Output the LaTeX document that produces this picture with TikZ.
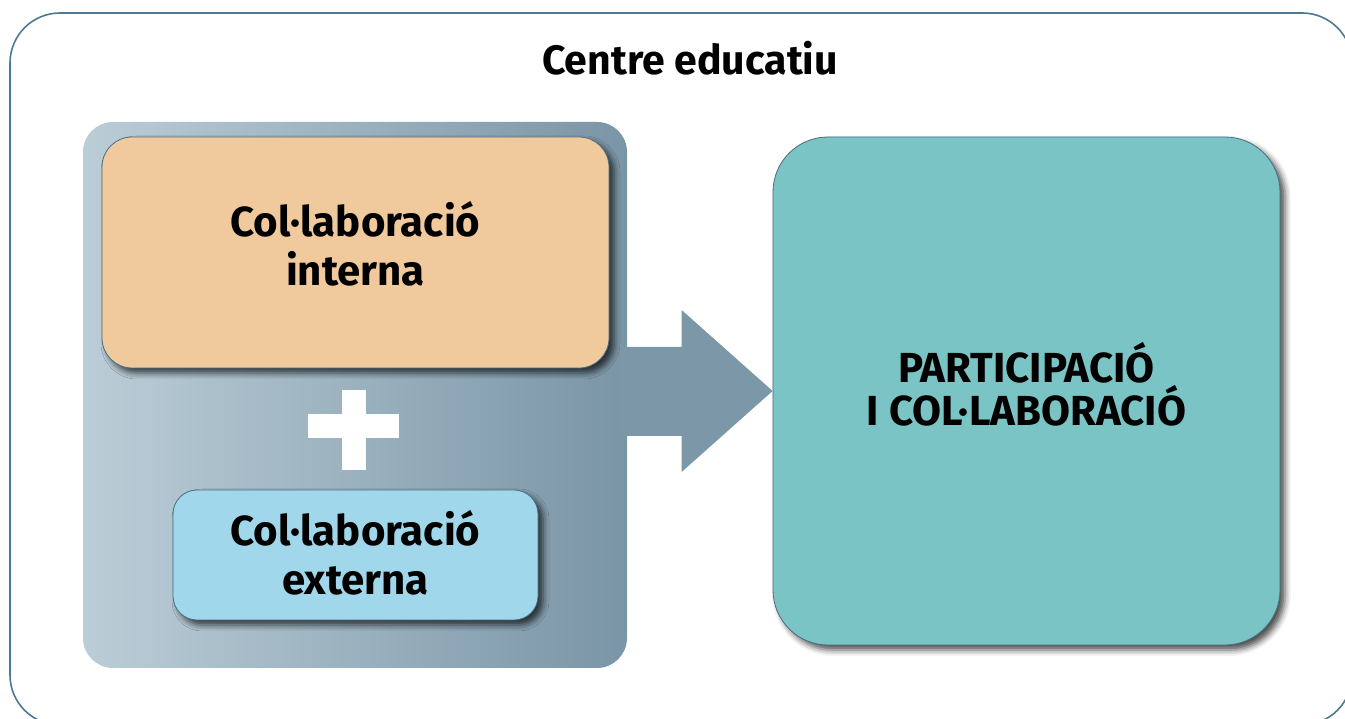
\documentclass[tikz,border=0pt]{standalone}
\usepackage{fontspec}
\setmainfont{Fira Sans}
\usetikzlibrary{shadows.blur}
\definecolor{framegray}{RGB}{78, 122, 145}
\definecolor{panellight}{RGB}{187, 205, 215}
\definecolor{paneldark}{RGB}{122, 149, 166}
\definecolor{arrowgray}{RGB}{124, 151, 168}
\definecolor{internorange}{RGB}{240, 201, 157}
\definecolor{externblue}{RGB}{160, 215, 234}
\definecolor{resultteal}{RGB}{123, 196, 197}
\definecolor{edgegray}{RGB}{74, 108, 128}

\tikzset{
    box/.style={draw=edgegray, line width=0.8pt, rounded corners=30pt, inner sep=0pt,
        blur shadow={shadow xshift=5pt, shadow yshift=-5pt, shadow blur radius=6pt, shadow opacity=70}},
    boxlabel/.style={align=center, inner sep=0pt, font=\fontsize{42}{49}\selectfont\bfseries},
}

\begin{document}
\begin{tikzpicture}[x=1pt, y=1pt]
    \useasboundingbox (0,0) rectangle (1345,719);
    \begin{scope}
        \clip (0,0) rectangle (1345,719);
        \draw[framegray, line width=1.6pt, rounded corners=50pt] (10,-6) rectangle (1352,706);
    \end{scope}
    \node[font=\fontsize{41}{46}\selectfont\bfseries] (title) at (690,661) {Centre educatiu};

    % left panel
    \node[rectangle, rounded corners=30pt, left color=panellight, right color=paneldark,
        minimum width=544pt, minimum height=546pt, inner sep=0pt] (panel) at (355,324) {};

    \node[box, fill=resultteal, rounded corners=55pt, minimum width=507pt, minimum height=508pt] (result) at (1026.5,328) {};
    \node[boxlabel] (resulttext) at ([yshift=7pt]result.center) {PARTICIPACIÓ\\[-6pt]I COL·LABORACIÓ};

    \fill[arrowgray] (result.west) -- ++(-91,81) -- ++(0,-37) -- ++(-60,0) -- ++(0,-89)
        -- ++(60,0) -- ++(0,-36) -- cycle;

    \node[box, fill=internorange, minimum width=507pt, minimum height=231pt] (intern) at (355.5,466.5) {};
    \node[boxlabel] (interntext) at ([yshift=9pt]intern.center) {Col·laboració\\interna};

    \node[box, fill=externblue, rounded corners=24pt, minimum width=365pt, minimum height=130pt] (extern) at (355.5,164) {};
    \node[boxlabel] (externtext) at ([yshift=2pt]extern.center) {Col·laboració\\externa};

    % plus
    \fill[white] (308,281) rectangle (399,305);
    \fill[white] (342,249) rectangle (366,329);
\end{tikzpicture}
\end{document}
